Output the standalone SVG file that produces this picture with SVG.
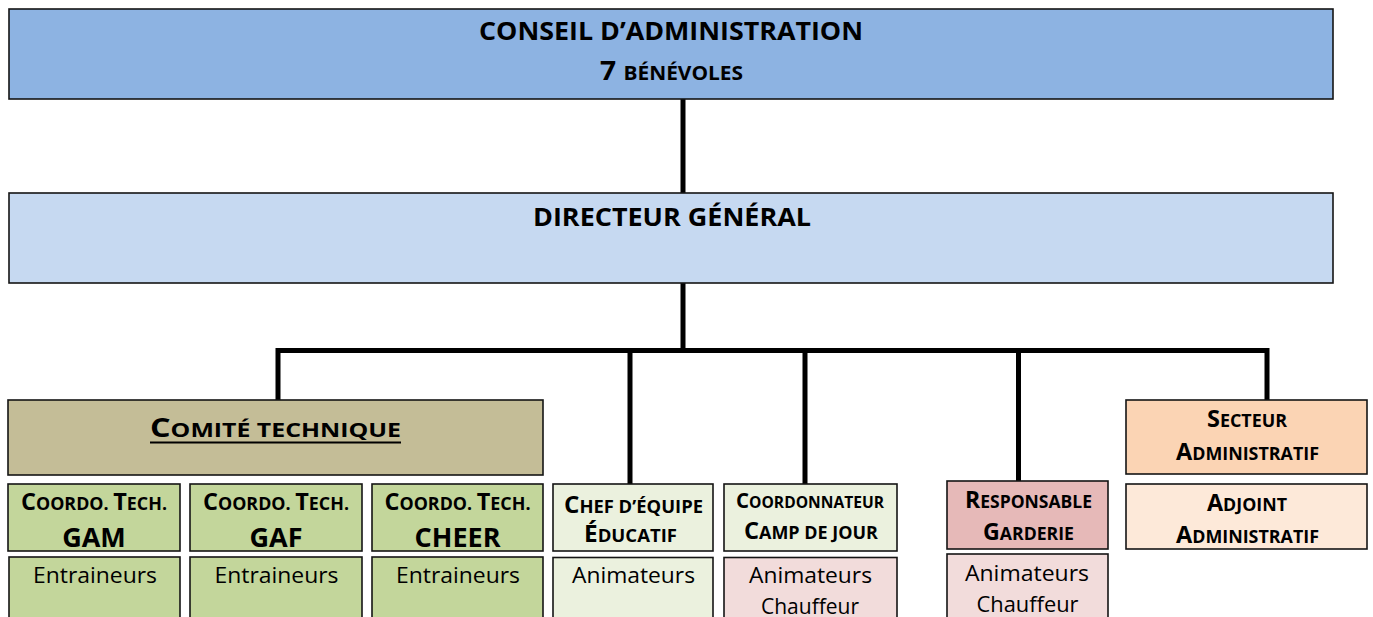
<svg xmlns="http://www.w3.org/2000/svg" width="1373" height="617" viewBox="0 0 1373 617">
<style>
  .box { stroke: #141414; stroke-width: 1.6; }
  .t { font-family: "Open Sans", "Liberation Sans", sans-serif; fill: #000; text-anchor: middle; }
  .b { font-weight: bold; }
  .r { font-weight: normal; font-size: 22px; }
  .L { font-size: 23px; }
  .s { font-size: 17.5px; }
  .conn { stroke: #000; stroke-width: 5; fill: none; stroke-linejoin: miter; stroke-linecap: butt; }
</style>
<rect width="1373" height="617" fill="#fff"/>

<g id="connectors">
  <line class="conn" x1="683" y1="99" x2="683" y2="193"/>
  <line class="conn" x1="683" y1="283" x2="683" y2="350.5"/>
  <path class="conn" d="M278,400 V350.5 H1267 V400"/>
  <line class="conn" x1="630" y1="350.5" x2="630" y2="484"/>
  <line class="conn" x1="805" y1="350.5" x2="805" y2="484"/>
  <line class="conn" x1="1018.5" y1="350.5" x2="1018.5" y2="481"/>
</g>

<g id="conseil">
  <rect class="box" x="9" y="9" width="1324" height="90" fill="#8DB3E2"/>
  <text class="t b" x="671" y="39.5" font-size="25" textLength="384" lengthAdjust="spacingAndGlyphs">CONSEIL D’ADMINISTRATION</text>
  <text class="t b" x="671.5" y="80" textLength="143" lengthAdjust="spacingAndGlyphs"><tspan font-size="27">7 </tspan><tspan font-size="20">BÉNÉVOLES</tspan></text>
</g>

<g id="directeur">
  <rect class="box" x="9" y="193" width="1324" height="90" fill="#C6D9F1"/>
  <text class="t b" x="672" y="225.5" font-size="25" textLength="278" lengthAdjust="spacingAndGlyphs">DIRECTEUR GÉNÉRAL</text>
</g>

<g id="comite">
  <rect class="box" x="8" y="400" width="535" height="75" fill="#C4BD97"/>
  <text class="t b" x="275.5" y="436.5" textLength="251" lengthAdjust="spacingAndGlyphs"><tspan font-size="26">C</tspan><tspan font-size="20">OMITÉ TECHNIQUE</tspan></text>
  <rect x="150" y="441.5" width="251" height="2" fill="#000"/>
</g>

<g id="coordo-gam">
  <rect class="box" x="8" y="484" width="172" height="67" fill="#C3D69B"/>
  <text class="t b" x="94" y="510" textLength="146" lengthAdjust="spacingAndGlyphs"><tspan class="L">C</tspan><tspan class="s">OORDO. </tspan><tspan class="L">T</tspan><tspan class="s">ECH.</tspan></text>
  <text class="t b" x="94" y="546.5" font-size="27">GAM</text>
</g>
<g id="entraineurs-gam">
  <rect class="box" x="9" y="557" width="171" height="70" fill="#C3D69B"/>
  <text class="t r" x="95" y="583" textLength="124" lengthAdjust="spacingAndGlyphs">Entraineurs</text>
</g>

<g id="coordo-gaf">
  <rect class="box" x="190" y="484" width="172" height="67" fill="#C3D69B"/>
  <text class="t b" x="276" y="510" textLength="146" lengthAdjust="spacingAndGlyphs"><tspan class="L">C</tspan><tspan class="s">OORDO. </tspan><tspan class="L">T</tspan><tspan class="s">ECH.</tspan></text>
  <text class="t b" x="276" y="546.5" font-size="27">GAF</text>
</g>
<g id="entraineurs-gaf">
  <rect class="box" x="190" y="557" width="172" height="70" fill="#C3D69B"/>
  <text class="t r" x="276.5" y="583" textLength="124" lengthAdjust="spacingAndGlyphs">Entraineurs</text>
</g>

<g id="coordo-cheer">
  <rect class="box" x="372" y="484" width="171" height="67" fill="#C3D69B"/>
  <text class="t b" x="457.5" y="510" textLength="146" lengthAdjust="spacingAndGlyphs"><tspan class="L">C</tspan><tspan class="s">OORDO. </tspan><tspan class="L">T</tspan><tspan class="s">ECH.</tspan></text>
  <text class="t b" x="457.5" y="546.5" font-size="27">CHEER</text>
</g>
<g id="entraineurs-cheer">
  <rect class="box" x="372" y="557" width="171" height="70" fill="#C3D69B"/>
  <text class="t r" x="458" y="583" textLength="124" lengthAdjust="spacingAndGlyphs">Entraineurs</text>
</g>

<g id="chef-equipe">
  <rect class="box" x="553" y="484" width="160" height="67" fill="#EBF1DE"/>
  <text class="t b" x="633.5" y="512.5" textLength="139" lengthAdjust="spacingAndGlyphs"><tspan class="L">C</tspan><tspan class="s">HEF D’ÉQUIPE</tspan></text>
  <text class="t b" x="630.5" y="541.5" textLength="93" lengthAdjust="spacingAndGlyphs"><tspan class="L">É</tspan><tspan class="s">DUCATIF</tspan></text>
</g>
<g id="animateurs-chef">
  <rect class="box" x="553" y="557.5" width="160" height="70" fill="#EBF1DE"/>
  <text class="t r" x="633.5" y="583" textLength="123" lengthAdjust="spacingAndGlyphs">Animateurs</text>
</g>

<g id="coord-camp">
  <rect class="box" x="724" y="484" width="173" height="67" fill="#EBF1DE"/>
  <text class="t b" x="810" y="507.5" textLength="148" lengthAdjust="spacingAndGlyphs"><tspan font-size="21">C</tspan><tspan font-size="16">OORDONNATEUR</tspan></text>
  <text class="t b" x="811" y="539" textLength="134" lengthAdjust="spacingAndGlyphs"><tspan class="L">C</tspan><tspan class="s">AMP DE JOUR</tspan></text>
</g>
<g id="animateurs-camp">
  <rect class="box" x="724" y="557.5" width="173" height="70" fill="#F2DCDB"/>
  <text class="t r" x="810.5" y="583" textLength="123" lengthAdjust="spacingAndGlyphs">Animateurs</text>
  <text class="t r" x="810" y="613.5" textLength="98" lengthAdjust="spacingAndGlyphs">Chauffeur</text>
</g>

<g id="responsable-garderie">
  <rect class="box" x="947" y="481" width="161" height="68" fill="#E6B9B8"/>
  <text class="t b" x="1028.5" y="508.3" textLength="127" lengthAdjust="spacingAndGlyphs"><tspan class="L">R</tspan><tspan class="s">ESPONSABLE</tspan></text>
  <text class="t b" x="1028.5" y="540" textLength="91" lengthAdjust="spacingAndGlyphs"><tspan class="L">G</tspan><tspan class="s">ARDERIE</tspan></text>
</g>
<g id="animateurs-garderie">
  <rect class="box" x="947" y="554" width="161" height="73" fill="#F2DCDB"/>
  <text class="t r" x="1027" y="580.7" textLength="124" lengthAdjust="spacingAndGlyphs">Animateurs</text>
  <text class="t r" x="1027.5" y="611.7" textLength="102" lengthAdjust="spacingAndGlyphs">Chauffeur</text>
</g>

<g id="secteur-admin">
  <rect class="box" x="1126" y="400" width="241" height="74" fill="#FBD4B4"/>
  <text class="t b" x="1247" y="426.7" textLength="80" lengthAdjust="spacingAndGlyphs"><tspan class="L">S</tspan><tspan class="s">ECTEUR</tspan></text>
  <text class="t b" x="1247.5" y="460" textLength="143" lengthAdjust="spacingAndGlyphs"><tspan class="L">A</tspan><tspan class="s">DMINISTRATIF</tspan></text>
</g>

<g id="adjoint-admin">
  <rect class="box" x="1126" y="484" width="241" height="65" fill="#FDE9D9"/>
  <text class="t b" x="1247" y="510.7" textLength="80" lengthAdjust="spacingAndGlyphs"><tspan class="L">A</tspan><tspan class="s">DJOINT</tspan></text>
  <text class="t b" x="1247.5" y="542.7" textLength="143" lengthAdjust="spacingAndGlyphs"><tspan class="L">A</tspan><tspan class="s">DMINISTRATIF</tspan></text>
</g>
</svg>
